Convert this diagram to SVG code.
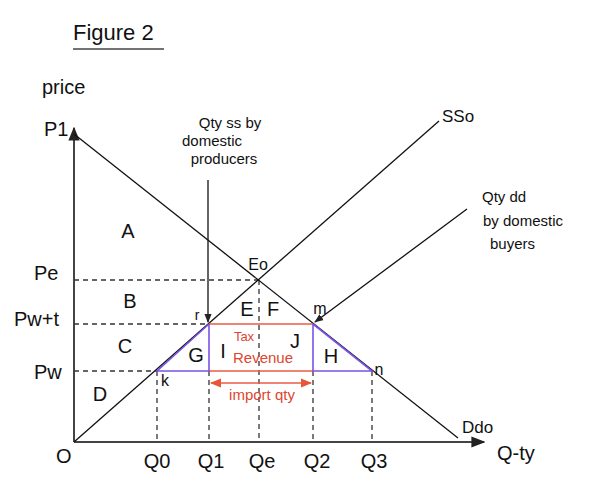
<svg xmlns="http://www.w3.org/2000/svg" width="598" height="493" viewBox="0 0 598 493">
<defs>
<marker id="ab" viewBox="0 0 10 10" refX="9" refY="5" markerWidth="7" markerHeight="7" orient="auto-start-reverse"><path d="M0,1 L10,5 L0,9 z" fill="#222"/></marker>
<marker id="ar" viewBox="0 0 10 10" refX="9" refY="5" markerWidth="7" markerHeight="7" orient="auto-start-reverse"><path d="M0,1 L10,5 L0,9 z" fill="#e8553a"/></marker>
<style>
text{font-family:"Liberation Sans",Arial,sans-serif;fill:#111}
.lbl{font-size:20px}
.sm{font-size:14px}
.ann{font-size:15px}
.red{fill:#e0452e}
.axis{stroke:#444;stroke-width:2;fill:none}
.curve{stroke:#111;stroke-width:1.3;fill:none}
.dash{stroke:#333;stroke-width:1.3;stroke-dasharray:5 4;fill:none}
.pur{stroke:#7b52e8;stroke-width:1.6;fill:none}
.rd{stroke:#ea5b44;stroke-width:1.6;fill:none}
</style>
</defs>
<rect width="598" height="493" fill="#fff"/>
<g id="title">
<text x="73" y="40" style="font-size:22px">Figure 2</text>
<line x1="73" y1="49" x2="164" y2="49" stroke="#444" stroke-width="1.6"/>
</g>
<g id="connectors">
<line class="axis" x1="74" y1="442" x2="74" y2="128" marker-end="url(#ab)"/>
<line class="axis" x1="74" y1="442" x2="484" y2="442" marker-end="url(#ab)"/>
<line class="dash" x1="74" y1="280" x2="259" y2="280"/>
<line class="dash" x1="74" y1="324" x2="209" y2="324"/>
<line class="dash" x1="74" y1="371" x2="157" y2="371"/>
<line class="dash" x1="157" y1="371" x2="157" y2="441"/>
<line class="dash" x1="209" y1="371" x2="209" y2="441"/>
<line class="dash" x1="259" y1="280" x2="259" y2="441"/>
<line class="dash" x1="313" y1="371" x2="313" y2="441"/>
<line class="dash" x1="372" y1="371" x2="372" y2="441"/>
<line class="curve" x1="74" y1="134" x2="458" y2="438"/>
<line class="curve" x1="74" y1="442" x2="439" y2="121"/>
<line class="curve" x1="208" y1="180" x2="208" y2="322" marker-end="url(#ab)"/>
<line class="curve" x1="467" y1="209" x2="315" y2="322" marker-end="url(#ab)"/>
<line class="rd" x1="209" y1="324" x2="313" y2="324"/>
<line class="rd" x1="209" y1="371" x2="313" y2="371"/>
<polyline class="pur" points="209,324 157,371 209,371 209,324"/>
<polyline class="pur" points="313,324 372,371 313,371 313,324"/>
<line class="rd" x1="211" y1="383" x2="311" y2="383" marker-start="url(#ar)" marker-end="url(#ar)"/>
</g>
<g id="axis-labels">
<text x="42" y="94" class="lbl">price</text>
<text x="44" y="136" class="lbl">P1</text>
<text x="34" y="280" class="lbl">Pe</text>
<text x="14" y="326" class="lbl">Pw+t</text>
<text x="34" y="379" class="lbl">Pw</text>
<text x="56" y="463" class="lbl">O</text>
<text x="157" y="468" class="lbl" text-anchor="middle">Q0</text>
<text x="211" y="468" class="lbl" text-anchor="middle">Q1</text>
<text x="262" y="468" class="lbl" text-anchor="middle">Qe</text>
<text x="317" y="468" class="lbl" text-anchor="middle">Q2</text>
<text x="374" y="468" class="lbl" text-anchor="middle">Q3</text>
<text x="497" y="460" class="lbl">Q-ty</text>
<text x="462" y="433" style="font-size:17px">Ddo</text>
<text x="442" y="122" style="font-size:17px">SSo</text>
</g>
<g id="annotations">
<text x="230" y="128" class="ann" text-anchor="middle">Qty ss by</text>
<text x="212" y="146" class="ann" text-anchor="middle">domestic</text>
<text x="224" y="164" class="ann" text-anchor="middle">producers</text>
<text x="482" y="202" class="ann">Qty dd</text>
<text x="483" y="226" class="ann">by domestic</text>
<text x="490" y="249" class="ann">buyers</text>
</g>
<g id="areas">
<text x="128" y="238" class="lbl" text-anchor="middle">A</text>
<text x="130" y="308" class="lbl" text-anchor="middle">B</text>
<text x="125" y="353" class="lbl" text-anchor="middle">C</text>
<text x="100" y="401" class="lbl" text-anchor="middle">D</text>
<text x="247" y="316" class="lbl" text-anchor="middle">E</text>
<text x="273" y="316" class="lbl" text-anchor="middle">F</text>
<text x="196" y="362" class="lbl" text-anchor="middle">G</text>
<text x="223" y="358" class="lbl" text-anchor="middle">I</text>
<text x="295" y="348" class="lbl" text-anchor="middle">J</text>
<text x="331" y="363" class="lbl" text-anchor="middle">H</text>
<text x="258" y="270" style="font-size:16px" text-anchor="middle">Eo</text>
<text x="197" y="320" class="sm" text-anchor="middle">r</text>
<text x="320" y="314" style="font-size:16px" text-anchor="middle">m</text>
<text x="379" y="375" style="font-size:16px" text-anchor="middle">n</text>
<text x="165" y="386" style="font-size:16px" text-anchor="middle">k</text>
</g>
<g id="tax-revenue">
<text x="244" y="341" class="red" style="font-size:13px" text-anchor="middle">Tax</text>
<text x="263" y="363" class="red" style="font-size:15px" text-anchor="middle">Revenue</text>
<text x="262" y="400" class="red" style="font-size:15px" text-anchor="middle">import qty</text>
</g>
</svg>
